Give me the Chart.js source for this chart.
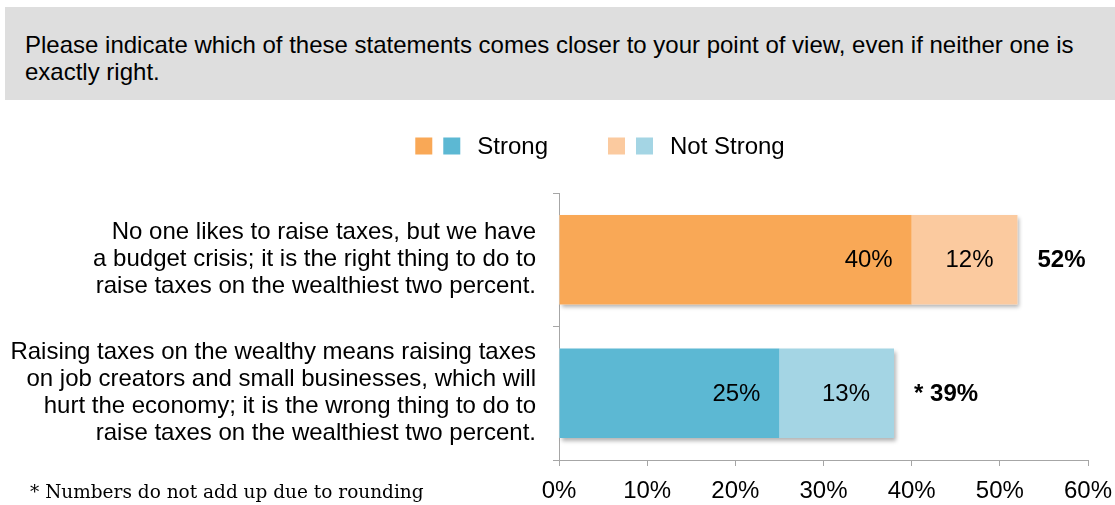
<!DOCTYPE html>
<html>
<head>
<meta charset="utf-8">
<script src="https://cdn.jsdelivr.net/npm/chart.js@4/dist/chart.umd.min.js"></script>
<style>
  body { margin: 0; background: #fff; font-family: "Liberation Sans", Arial, sans-serif; }
  #wrap { position: relative; width: 1115px; height: 505px; overflow: hidden; }
  #question {
    position: absolute; left: 5px; top: 7px; width: 1090px; height: 69px;
    padding: 24px 0 0 20px; background: #dedede; color: #000;
    font-size: 24px; line-height: 27px; white-space: nowrap;
  }
  #note {
    position: absolute; left: 30px; top: 481px; color: #000;
    font-family: "DejaVu Serif", Georgia, serif; font-size: 18.5px;
  }
  canvas { position: absolute; left: 0; top: 0; }
</style>
</head>
<body>
<div id="wrap">
  <canvas id="chart" width="1115" height="505"></canvas>
  <div id="question">Please indicate which of these statements comes closer to your point of view, even if neither one is<br>exactly right.</div>
  <div id="note">* Numbers do not add up due to rounding</div>
</div>
<script>
const categories = [
  ["No one likes to raise taxes, but we have", "a budget crisis; it is the right thing to do to", "raise taxes on the wealthiest two percent."],
  ["Raising taxes on the wealthy means raising taxes", "on job creators and small businesses, which will", "hurt the economy; it is the wrong thing to do to", "raise taxes on the wealthiest two percent."]
];
const strongValues = [40, 25];
const notStrongValues = [12, 13];
const totalLabels = ["52%", "* 39%"];
const legendLabels = ["Strong", "Not Strong"];

const strongColors = ["#f9a856", "#5cb8d3"];
const notStrongColors = ["#fbca9f", "#a4d5e4"];
const axisGray = "#a6a6a6";
const FONT = "'Liberation Sans', Arial, sans-serif";
const SIZE = 24;

// soft drop shadow under each whole bar
const barShadow = {
  id: "barShadow",
  beforeDatasetsDraw(chart) {
    const ctx = chart.ctx;
    const first = chart.getDatasetMeta(0).data;
    const last = chart.getDatasetMeta(chart.data.datasets.length - 1).data;
    ctx.save();
    ctx.shadowColor = "rgba(0,0,0,0.3)";
    ctx.shadowBlur = 4;
    ctx.shadowOffsetX = 2;
    ctx.shadowOffsetY = 3;
    ctx.fillStyle = "#fff";
    first.forEach((bar, i) => {
      const h = bar.height;
      ctx.fillRect(bar.base, bar.y - h / 2, last[i].x - bar.base, h);
    });
    ctx.restore();
  }
};

// percent inside each segment, bold total after the bar
const barLabels = {
  id: "barLabels",
  afterDraw(chart) {
    const ctx = chart.ctx;
    ctx.save();
    ctx.fillStyle = "#000";
    ctx.textBaseline = "middle";
    ctx.font = SIZE + "px " + FONT;
    chart.data.datasets.forEach((ds, d) => {
      chart.getDatasetMeta(d).data.forEach((bar, i) => {
        ctx.textAlign = "right";
        ctx.fillText(ds.data[i] + "%", bar.x - (d === 0 ? 19 : 24), bar.y + 1);
      });
    });
    const last = chart.getDatasetMeta(chart.data.datasets.length - 1).data;
    ctx.font = "bold " + SIZE + "px " + FONT;
    ctx.textAlign = "left";
    last.forEach((bar, i) => ctx.fillText(totalLabels[i], bar.x + 20, bar.y + 1));
    ctx.restore();
  }
};

// legend: two colour swatches per entry, then the text
const pairLegend = {
  id: "pairLegend",
  afterDraw(chart) {
    const ctx = chart.ctx;
    const sq = 17, gap = 11, textGap = 17, entryGap = 60, cy = 146;
    ctx.save();
    ctx.font = SIZE + "px " + FONT;
    ctx.textBaseline = "middle";
    ctx.textAlign = "left";
    const swatches = [[strongColors[0], strongColors[1]], [notStrongColors[0], notStrongColors[1]]];
    const widths = legendLabels.map(t => 2 * sq + gap + textGap + ctx.measureText(t).width);
    const total = widths.reduce((a, b) => a + b, 0) + entryGap;
    let x = 600 - total / 2;
    legendLabels.forEach((t, i) => {
      swatches[i].forEach((c, k) => {
        ctx.fillStyle = c;
        ctx.fillRect(x + k * (sq + gap), cy - sq / 2, sq, sq);
      });
      ctx.fillStyle = "#000";
      ctx.fillText(t, x + 2 * sq + gap + textGap, cy + 1);
      x += widths[i] + entryGap;
    });
    ctx.restore();
  }
};

new Chart(document.getElementById("chart"), {
  type: "bar",
  data: {
    labels: categories,
    datasets: [
      { label: "Strong", data: strongValues, backgroundColor: strongColors },
      { label: "Not Strong", data: notStrongValues, backgroundColor: notStrongColors }
    ]
  },
  options: {
    indexAxis: "y",
    responsive: false,
    animation: false,
    barPercentage: 0.67,
    categoryPercentage: 1,
    layout: { padding: { top: 193, right: 27, bottom: 0, left: 0 } },
    scales: {
      x: {
        stacked: true,
        min: 0,
        max: 60,
        afterFit(scale) {
          scale.height = 45;
          scale.paddingLeft = 0;
          scale.paddingRight = 0;
        },
        grid: { drawOnChartArea: false, tickLength: 6, color: axisGray },
        border: { color: axisGray },
        ticks: {
          stepSize: 10,
          padding: 11,
          color: "#000",
          maxRotation: 0,
          font: { family: FONT, size: SIZE },
          callback: v => v + "%"
        }
      },
      y: {
        stacked: true,
        afterFit(scale) {
          scale.width = 559;
          scale.paddingTop = 0;
          scale.paddingBottom = 0;
        },
        grid: { drawOnChartArea: false, tickLength: 6, color: axisGray, offset: true },
        border: { color: axisGray },
        ticks: {
          padding: 17,
          color: "#000",
          font: { family: FONT, size: SIZE, lineHeight: 27 / SIZE }
        }
      }
    },
    plugins: {
      legend: { display: false },
      tooltip: { enabled: false }
    }
  },
  plugins: [barShadow, barLabels, pairLegend]
});
</script>
</body>
</html>
